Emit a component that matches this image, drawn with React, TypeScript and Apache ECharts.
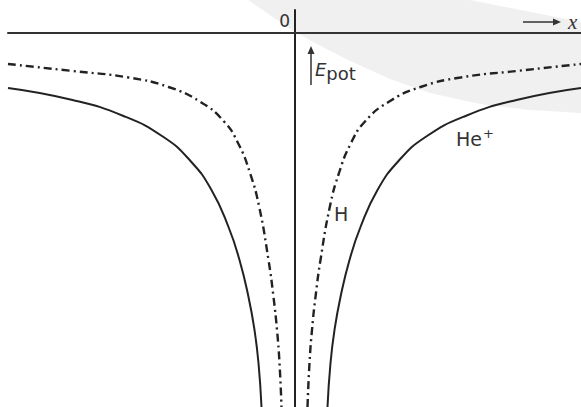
import { useEffect, useRef } from "react";
import * as echarts from "echarts";

// Coulomb potential energy of the electron vs. distance from the nucleus
// (arbitrary units; x = 0 at the nucleus, E = 0 at infinite distance).
// Each curve is symmetric: the same distances are drawn on both sides of the nucleus.

// Hydrogen, H (dash-dot)
const hDistance = [2.865, 2.22, 1.66, 1.26, 0.94, 0.705, 0.56, 0.445, 0.355, 0.26, 0.21, 0.175, 0.15, 0.13];
const hEnergy = [-0.31, -0.38, -0.445, -0.54, -0.69, -0.885, -1.11, -1.4, -1.73, -2.27, -2.64, -2.97, -3.3, -3.74];

// Helium ion, He+ (solid)
const heDistance = [2.865, 2.22, 1.71, 1.31, 1.04, 0.83, 0.66, 0.55, 0.46, 0.4, 0.36, 0.33];
const heEnergy = [-0.55, -0.67, -0.83, -1.04, -1.28, -1.57, -1.94, -2.27, -2.64, -2.97, -3.3, -3.74];

const X_MIN = -2.865;
const X_MAX = 2.865;
const E_MIN = -3.74;
const E_MAX = 0.23;

const leftBranch = (rs: number[], es: number[]) => rs.map((r, i) => [-r, es[i]]);
const rightBranch = (rs: number[], es: number[]) => rs.map((r, i) => [r, es[i]]).reverse();

const INK = "#222";
const TEXT = "#333";
const SANS = "'DejaVu Sans', 'Liberation Sans', sans-serif";

export default function App() {
  const ref = useRef<HTMLDivElement>(null);

  useEffect(() => {
    if (!ref.current) return;
    const chart = echarts.init(ref.current, undefined, { renderer: "svg" });

    const dashDot = { color: INK, width: 2.4, type: [8, 4, 2, 4] as number[] };
    const solid = { color: INK, width: 2, type: "solid" as const };

    const branch = (name: string, data: number[][], lineStyle: object) => ({
      type: "line",
      name,
      data,
      smooth: 0.5,
      showSymbol: false,
      symbol: "none",
      clip: true,
      lineStyle,
      emphasis: { disabled: true },
      z: 3,
    });

    chart.setOption({
      animation: false,
      backgroundColor: "#ffffff",
      grid: { left: 8, right: 0, top: 10, bottom: 0, containLabel: false },
      xAxis: {
        type: "value",
        min: X_MIN,
        max: X_MAX,
        axisLine: { show: true, onZero: true, lineStyle: { color: "#333", width: 2 } },
        axisTick: { show: false },
        axisLabel: { show: false },
        splitLine: { show: false },
      },
      yAxis: {
        type: "value",
        min: E_MIN,
        max: E_MAX,
        axisLine: { show: true, onZero: true, lineStyle: { color: INK, width: 2 } },
        axisTick: { show: false },
        axisLabel: { show: false },
        splitLine: { show: false },
      },
      series: [
        branch("H", leftBranch(hDistance, hEnergy), dashDot),
        branch("H", rightBranch(hDistance, hEnergy), dashDot),
        branch("He+", leftBranch(heDistance, heEnergy), solid),
        branch("He+", rightBranch(heDistance, heEnergy), solid),
      ],
      graphic: [
        {
          type: "polygon",
          z: -10,
          silent: true,
          shape: {
            points: [
              [248, 0], [470, 0], [581, 22], [581, 113], [530, 110], [480, 104],
              [430, 93], [390, 79], [348, 60], [315, 43], [290, 29], [270, 15],
            ],
          },
          style: { fill: "#f0f0f0" },
        },
        // origin label
        {
          type: "text",
          x: 290,
          y: 21,
          style: { text: "0", fontSize: 17, fontFamily: SANS, fill: TEXT, align: "right", verticalAlign: "middle" },
        },
        // x direction arrow
        {
          type: "line",
          shape: { x1: 523, y1: 22, x2: 554, y2: 22 },
          style: { stroke: TEXT, lineWidth: 1.5 },
        },
        {
          type: "polygon",
          shape: { points: [[553, 18.5], [561, 22], [553, 25.5]] },
          style: { fill: TEXT },
        },
        {
          type: "text",
          x: 568,
          y: 22,
          style: {
            text: "x",
            fontSize: 21,
            fontStyle: "italic",
            fontFamily: "'Liberation Serif', 'DejaVu Serif', serif",
            fill: TEXT,
            align: "left",
            verticalAlign: "middle",
          },
        },
        // energy direction arrow
        {
          type: "line",
          shape: { x1: 311, y1: 85, x2: 311, y2: 53 },
          style: { stroke: TEXT, lineWidth: 1.5 },
        },
        {
          type: "polygon",
          shape: { points: [[307.5, 54], [311, 46], [314.5, 54]] },
          style: { fill: TEXT },
        },
        {
          type: "text",
          x: 315,
          y: 78,
          style: {
            text: "{e|E}{s|pot}",
            verticalAlign: "bottom",
            align: "left",
            rich: {
              e: { fontSize: 18, fontStyle: "italic", fontFamily: SANS, fill: TEXT, verticalAlign: "bottom" },
              s: { fontSize: 18, fontFamily: SANS, fill: TEXT, verticalAlign: "bottom", padding: [0, 0, -4, 0] },
            },
          },
        },
        // curve labels
        {
          type: "text",
          x: 334,
          y: 214,
          style: { text: "H", fontSize: 19, fontFamily: SANS, fill: TEXT, align: "left", verticalAlign: "middle" },
        },
        {
          type: "text",
          x: 456,
          y: 148,
          style: {
            text: "{b|He}{p|+}",
            align: "left",
            verticalAlign: "bottom",
            rich: {
              b: { fontSize: 19, fontFamily: SANS, fill: TEXT, verticalAlign: "bottom" },
              p: { fontSize: 13, fontFamily: SANS, fill: TEXT, verticalAlign: "bottom", padding: [0, 0, 8, 1] },
            },
          },
        },
      ],
    });

    return () => chart.dispose();
  }, []);

  return (
    <div
      ref={ref}
      style={{ position: "absolute", left: 0, top: 0, width: 581, height: 407 }}
    />
  );
}
